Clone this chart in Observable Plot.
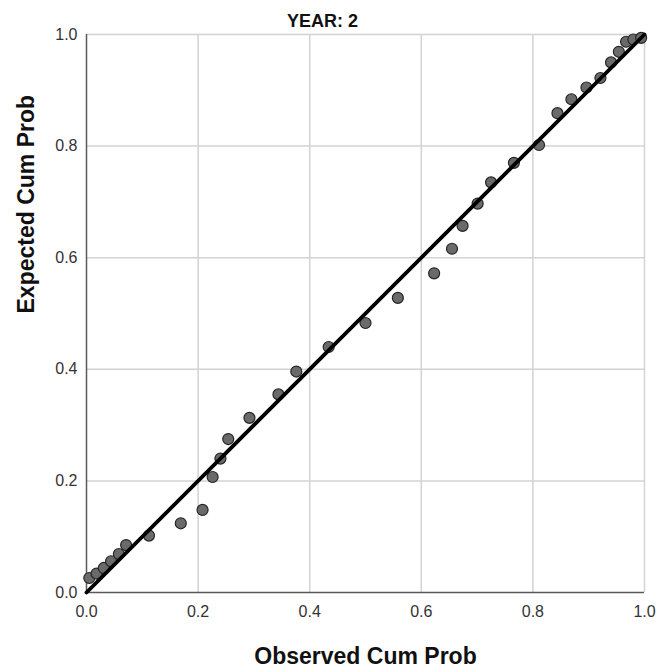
<!DOCTYPE html>
<html><head><meta charset="utf-8">
<script src="https://cdn.jsdelivr.net/npm/d3@7"></script>
<script src="https://cdn.jsdelivr.net/npm/@observablehq/plot@0.6"></script>
<style>body{margin:0;background:#fff}</style>
</head><body><div id="chart"></div>
<script>
const title = "YEAR: 2";
const xLabel = "Observed Cum Prob";
const yLabel = "Expected Cum Prob";
const xTicks = [0, 0.2, 0.4, 0.6, 0.8, 1.0];
const yTicks = [0, 0.2, 0.4, 0.6, 0.8, 1.0];
const observed = [0.005, 0.018, 0.031, 0.044, 0.058, 0.071, 0.112, 0.169, 0.208, 0.226, 0.240, 0.254, 0.292, 0.344, 0.376, 0.434, 0.500, 0.558, 0.623, 0.655, 0.674, 0.701, 0.725, 0.766, 0.811, 0.844, 0.869, 0.896, 0.921, 0.940, 0.954, 0.967, 0.980, 0.994];
const expected = [0.026, 0.034, 0.044, 0.056, 0.069, 0.085, 0.102, 0.124, 0.148, 0.207, 0.240, 0.275, 0.313, 0.355, 0.396, 0.440, 0.483, 0.528, 0.572, 0.616, 0.657, 0.697, 0.735, 0.770, 0.802, 0.859, 0.884, 0.905, 0.922, 0.950, 0.969, 0.987, 0.991, 0.994];
const refLine = [0, 1];

const points = observed.map((x, i) => ({x, y: expected[i]}));
const fmt = d3.format(".1f");

const chart = Plot.plot({
  width: 657, height: 671,
  marginLeft: 86, marginRight: 13, marginTop: 34, marginBottom: 79,
  style: {fontFamily: "'Liberation Sans', Arial, sans-serif", background: "#fff", fontSize: "16px"},
  x: {domain: [0, 1]},
  y: {domain: [0, 1]},
  marks: [
    Plot.gridX(xTicks.slice(1), {stroke: "#d3d3d3", strokeOpacity: 1, strokeWidth: 1.5}),
    Plot.gridY(yTicks.slice(1), {stroke: "#d3d3d3", strokeOpacity: 1, strokeWidth: 1.5}),
    Plot.axisX(xTicks, {tickSize: 0, tickPadding: 13, tickFormat: fmt, fontSize: 16, fill: "#333", label: null}),
    Plot.axisY(yTicks, {tickSize: 0, tickPadding: 9, tickFormat: fmt, fontSize: 16, fill: "#333", label: null}),
    Plot.ruleX([0], {stroke: "#5a5a5a", strokeWidth: 1.5}),
    Plot.ruleY([0], {stroke: "#5a5a5a", strokeWidth: 1.5}),
    Plot.dot(points, {x: "x", y: "y", r: 5.5, fill: "#6a6a6a", stroke: "#262626", strokeWidth: 1.2}),
    Plot.line(refLine.map(v => ({v})), {x: "v", y: "v", stroke: "#000", strokeWidth: 3.8}),
    Plot.text([title], {frameAnchor: "top", dx: -43, dy: -8, lineAnchor: "bottom", fontSize: 18, fontWeight: "bold", fill: "#111"}),
    Plot.text([xLabel], {frameAnchor: "bottom", dy: 71, lineAnchor: "bottom", fontSize: 23, fontWeight: "bold", fill: "#111"}),
    Plot.text([yLabel], {frameAnchor: "left", dx: -60, rotate: -90, fontSize: 23, fontWeight: "bold", fill: "#111"})
  ]
});
document.getElementById("chart").appendChild(chart);
</script>
</body></html>
